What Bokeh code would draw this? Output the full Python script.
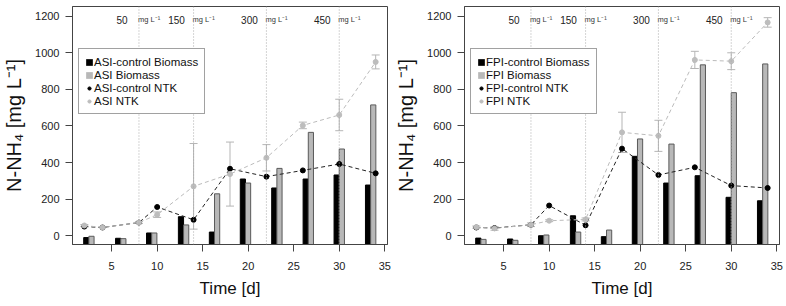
from bokeh.plotting import figure
from bokeh.layouts import row
from bokeh.models import (ColumnDataSource, Whisker, TeeHead, Span, Legend, LegendItem,
                          FixedTicker, Range1d)
from bokeh.core.properties import value
from bokeh.transform import dodge
from bokeh.embed import file_html
from bokeh.resources import INLINE

# ---------------- data ----------------
ntk_days = [2, 4, 8, 10, 14, 18, 22, 26, 30, 34]
bar_days = [2.5, 6.0, 9.4, 12.9, 16.3, 19.7, 23.15, 26.6, 30.0, 33.45]
change_days = [8, 14, 22, 30]
conc_labels = ["50", "150", "300", "450"]
unit_label = "mg L\u207b\u00b9"

# ASI panel
asi_ctrl_biomass = [-10, -14, 15, 104, 20, 310, 261, 310, 332, 277]
asi_biomass = [-3, -16, 15, 59, 229, 288, 368, 565, 474, 715]
asi_ctrl_ntk = [50, 45, 72, 157, 87, 366, 323, 357, 392, 341]
asi_ntk = [56, 45, 72, 115, 270, 337, 426, 603, 660, 950]
asi_ntk_err = [5, 0, 5, 15, 234, 175, 72, 18, 86, 38]

# FPI panel
fpi_ctrl_biomass = [-13, -18, 0, 109, -5, 434, 288, 328, 210, 191]
fpi_biomass = [-20, -25, 4, 20, 31, 529, 501, 934, 782, 939]
fpi_ctrl_ntk = [45, 42, 60, 165, 57, 476, 332, 374, 274, 261]
fpi_ntk = [47, 40, 60, 82, 89, 565, 546, 961, 954, 1166]
fpi_ntk_err = [6, 10, 10, 5, 8, 110, 85, 47, 46, 26]

x_ticks = [5, 10, 15, 20, 25, 30, 35]
y_ticks = [0, 200, 400, 600, 800, 1000, 1200]

# ---------------- style ----------------
FONT = "Liberation Sans"
Y0, Y1 = -48, 1253
X0, X1 = 0.7, 35.3
BAR_W = 0.57
GRAY_FILL = "#b8b8b8"
GRAY_PT = "#bdbdbd"
FRAME = "#444444"


def make_panel(name, ctrl_bio, bio, ctrl_ntk, ntk, err, width, left, right):
    p = figure(width=width, height=306, output_backend="svg", toolbar_location=None,
               x_range=Range1d(X0, X1), y_range=Range1d(Y0, Y1),
               min_border_left=left, min_border_right=right,
               min_border_top=6, min_border_bottom=62)
    p.xgrid.visible = False
    p.ygrid.visible = False
    p.outline_line_color = FRAME
    p.outline_line_width = 1
    p.background_fill_color = "white"
    p.border_fill_color = "white"

    for ax in (p.xaxis[0], p.yaxis[0]):
        ax.axis_line_color = FRAME
        ax.major_tick_line_color = FRAME
        ax.major_tick_out = 7
        ax.major_tick_in = 0
        ax.minor_tick_line_color = None
        ax.major_label_text_font = FONT
        ax.major_label_text_font_size = "11px"
        ax.major_label_text_color = "#222222"
        ax.axis_label_text_font = FONT
        ax.axis_label_text_font_style = "normal"
        ax.axis_label_text_color = "#111111"
    p.xaxis.ticker = FixedTicker(ticks=x_ticks)
    p.yaxis.ticker = FixedTicker(ticks=y_ticks)
    p.xaxis.major_label_standoff = 10
    p.yaxis.major_label_standoff = 6
    p.xaxis.axis_label = "Time [d]"
    p.xaxis.axis_label_text_font_size = "17px"
    p.xaxis.axis_label_standoff = 6
    p.yaxis.axis_label = "N-NH\u2084 [mg L\u207b\u00b9]"
    p.yaxis.axis_label_text_font_size = "20px"
    p.yaxis.axis_label_standoff = 7

    # vertical dotted lines marking concentration changes
    for d in change_days:
        p.add_layout(Span(location=d, dimension="height", line_color="#aaaaaa",
                          line_dash="1 2", line_width=1))

    lab_src = ColumnDataSource(dict(x=change_days, y=[1181] * 4, t=conc_labels,
                                    u=[unit_label] * 4))
    p.text(x="x", y="y", text="t", source=lab_src, x_offset=-17, text_align="center",
           text_baseline="middle", text_font=value(FONT), text_font_size="10px",
           text_color="#222222")
    p.text(x="x", y="y", text="u", source=lab_src, x_offset=-1, text_align="left",
           text_baseline="middle", text_font=value(FONT), text_font_size="7.5px",
           text_color="#333333")

    # bars
    bsrc = ColumnDataSource(dict(x=bar_days, c=ctrl_bio, b=bio))
    p.vbar(x=dodge("x", -BAR_W / 2), top="c", bottom=Y0, width=BAR_W, source=bsrc,
           fill_color="black", line_color="black", line_width=1)
    p.vbar(x=dodge("x", BAR_W / 2), top="b", bottom=Y0, width=BAR_W, source=bsrc,
           fill_color=GRAY_FILL, line_color="#5a5a5a", line_width=1)

    # NTK lines and points
    nsrc = ColumnDataSource(dict(x=ntk_days, c=ctrl_ntk, n=ntk,
                                 lo=[v - e for v, e in zip(ntk, err)],
                                 hi=[v + e for v, e in zip(ntk, err)]))
    p.line("x", "c", source=nsrc, line_color="#222222", line_dash="4 3", line_width=1)
    p.scatter("x", "c", source=nsrc, size=5, marker="circle",
              fill_color="black", line_color="black")
    p.line("x", "n", source=nsrc, line_color="#bbbbbb", line_dash="4 3", line_width=1)
    wk = Whisker(base="x", lower="lo", upper="hi", source=nsrc, line_color="#b5b5b5",
                 line_width=1,
                 lower_head=TeeHead(size=8, line_color="#b5b5b5", line_width=1),
                 upper_head=TeeHead(size=8, line_color="#b5b5b5", line_width=1))
    p.add_layout(wk)
    p.scatter("x", "n", source=nsrc, size=5, marker="circle",
              fill_color=GRAY_PT, line_color=GRAY_PT)

    # legend proxies (hidden on the plot, only styled for the legend swatches)
    lg_cb = p.scatter(dodge("x", -BAR_W / 2), "c", source=bsrc, marker="square",
                      fill_color="black", line_color="black", line_width=3.5,
                      line_join="miter", visible=False)
    lg_b = p.scatter(dodge("x", BAR_W / 2), "b", source=bsrc, marker="square",
                     fill_color=GRAY_FILL, line_color=GRAY_FILL, line_width=3.5,
                     line_join="miter", visible=False)
    lg_cn = p.scatter("x", "c", source=nsrc, marker="circle", fill_color="black",
                      line_color="black", line_width=1, visible=False)
    lg_n = p.scatter("x", "n", source=nsrc, marker="circle", fill_color=GRAY_PT,
                     line_color=GRAY_PT, line_width=1, visible=False)

    legend = Legend(items=[
        LegendItem(label=f"{name}-control Biomass", renderers=[lg_cb]),
        LegendItem(label=f"{name} Biomass", renderers=[lg_b]),
        LegendItem(label=f"{name}-control NTK", renderers=[lg_cn]),
        LegendItem(label=f"{name} NTK", renderers=[lg_n]),
    ], location=(6, 130))
    legend.glyph_width = 8
    legend.glyph_height = 8
    legend.label_standoff = 1
    legend.label_height = 13
    legend.spacing = 0
    legend.padding = 6
    legend.margin = 0
    legend.label_text_font = FONT
    legend.label_text_font_size = "11.5px"
    legend.label_text_color = "#111111"
    legend.border_line_color = FRAME
    legend.border_line_width = 1
    legend.background_fill_color = "white"
    legend.background_fill_alpha = 1
    p.add_layout(legend)
    return p


p1 = make_panel("ASI", asi_ctrl_biomass, asi_biomass, asi_ctrl_ntk, asi_ntk, asi_ntk_err,
                392, 71, 5)
p2 = make_panel("FPI", fpi_ctrl_biomass, fpi_biomass, fpi_ctrl_ntk, fpi_ntk, fpi_ntk_err,
                394, 70, 7)

layout = row(p1, p2, spacing=0)
open("out.html", "w").write(file_html(layout, INLINE))
